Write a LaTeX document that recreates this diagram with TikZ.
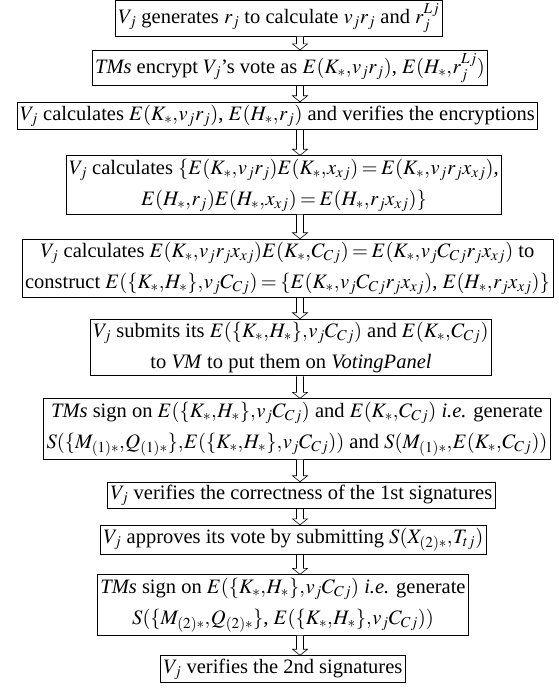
\documentclass[tikz,border=0pt]{standalone}
\usepackage{mathptmx}
\usepackage{fontspec}
\setmainfont{Liberation Serif}
\usepackage{tikz}
\usetikzlibrary{positioning,calc}
\thinmuskip=0.5mu
\medmuskip=2mu
\thickmuskip=3mu

% hollow down arrow between two boxes, on the spine
\newcommand{\flowarrow}[2]{%
  \draw[hollow]
    ($(#1.south -| spine)+(-3.5,0)$) -- ($(#2.north -| spine)+(-3.5,-6)$)
    -- ($(#2.north -| spine)+(-7.5,-6)$) -- (#2.north -| spine)
    -- ($(#2.north -| spine)+(7.5,-6)$) -- ($(#2.north -| spine)+(3.5,-6)$)
    -- ($(#1.south -| spine)+(3.5,0)$);
}

\begin{document}
\begin{tikzpicture}[x=1pt,y=-1pt,
  stepbox/.style={
    draw,
    line width=0.8pt,
    fill=white,
    align=center,
    inner xsep=3pt,
    inner ysep=3pt,
    font=\fontsize{20.5}{31}\selectfont
  },
  hollow/.style={
    draw,
    line width=0.6pt,
    fill=white
  }
]
\useasboundingbox (0,0) rectangle (558,688);
\coordinate (spine) at (300,0);
\node[stepbox] (gen) at (279,18.5) {$V_j$ generates $r_j$ to calculate $v_jr_j$ and $r_j^{Lj}$};
  \node[stepbox] (enc) at (290,68) {\textit{TMs} encrypt $V_j${\char39}s vote as $E(K_*,v_jr_j)$, $E(H_*,r_j^{Lj})$};
  \node[stepbox] (chk) at (277.5,116) {$V_j$ calculates $E(K_*,v_jr_j)$, $E(H_*,r_j)$ and verifies the encryptions};
  \node[stepbox] (mul) at (284,185) {$V_j$ calculates $\{E(K_*,v_jr_j)E(K_*,x_{xj}) = E(K_*,v_jr_jx_{xj})$,\\
    $E(H_*,r_j)E(H_*,x_{xj}) = E(H_*,r_jx_{xj})\}$};
  \node[stepbox] (con) at (287.5,268.5) {$V_j$ calculates $E(K_*,v_jr_jx_{xj})E(K_*,C_{Cj}) = E(K_*,v_jC_{Cj}r_jx_{xj})$ to\\
    construct $E(\{K_*,H_*\},v_jC_{Cj}) = \{E(K_*,v_jC_{Cj}r_jx_{xj})$, $E(H_*,r_jx_{xj})\}$};
  \node[stepbox] (sub) at (291,347.5) {$V_j$ submits its $E(\{K_*,H_*\},v_jC_{Cj})$ and $E(K_*,C_{Cj})$\\
    to \textit{VM} to put them on \textit{VotingPanel}};
  \node[stepbox] (sg1) at (297,429) {\textit{TMs} sign on $E(\{K_*,H_*\},v_jC_{Cj})$ and $E(K_*,C_{Cj})$ \textit{i.e.} generate\\
    $S(\{M_{(1)*},Q_{(1)*}\},E(\{K_*,H_*\},v_jC_{Cj}))$ and $S(M_{(1)*},E(K_*,C_{Cj}))$};
  \node[stepbox] (ver1) at (301.5,495.5) {$V_j$ verifies the correctness of the 1st signatures};
  \node[stepbox] (app) at (293.5,540) {$V_j$ approves its vote by submitting $S(X_{(2)*},T_{tj})$};
  \node[stepbox] (sg2) at (283,605) {\textit{TMs} sign on $E(\{K_*,H_*\},v_jC_{Cj})$ \textit{i.e.} generate\\
    $S(\{M_{(2)*},Q_{(2)*}\}$, $E(\{K_*,H_*\},v_jC_{Cj}))$};
  \node[stepbox] (ver2) at (283,669) {$V_j$ verifies the 2nd signatures};
  \flowarrow{gen}{enc}
  \flowarrow{enc}{chk}
  \flowarrow{chk}{mul}
  \flowarrow{mul}{con}
  \flowarrow{con}{sub}
  \flowarrow{sub}{sg1}
  \flowarrow{sg1}{ver1}
  \flowarrow{ver1}{app}
  \flowarrow{app}{sg2}
  \flowarrow{sg2}{ver2}
\end{tikzpicture}
\end{document}
